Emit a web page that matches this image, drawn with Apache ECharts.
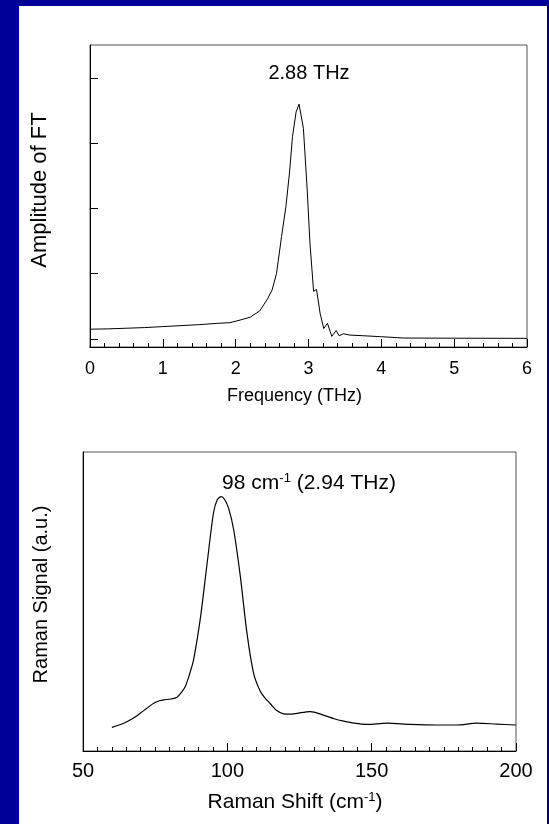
<!DOCTYPE html>
<html>
<head>
<meta charset="utf-8">
<script src="https://cdn.jsdelivr.net/npm/echarts@6/dist/echarts.min.js"></script>
<style>
html,body{margin:0;padding:0;background:#000099;}
#chart{width:549px;height:824px;}
</style>
</head>
<body>
<div id="chart"></div>
<script>
// ---- Top chart: Fourier transform amplitude vs frequency (THz) ----
var ftFreq = [0.00,0.25,0.50,0.75,1.00,1.25,1.50,1.75,1.92,2.06,2.20,2.33,2.43,2.50,2.56,2.63,2.69,2.74,2.78,2.83,2.87,2.93,2.98,3.02,3.07,3.11,3.16,3.21,3.26,3.32,3.38,3.42,3.48,3.57,3.75,4.00,4.30,5.00,6.00];
var ftAmp  = [0.150,0.155,0.165,0.175,0.190,0.205,0.220,0.240,0.250,0.290,0.335,0.430,0.600,0.750,1.000,1.570,2.030,2.560,3.100,3.480,3.600,3.230,2.330,1.470,0.730,0.760,0.390,0.160,0.240,0.040,0.130,0.050,0.080,0.060,0.050,0.035,0.015,0.012,0.010];
var ftXTicks = [0,1,2,3,4,5,6];
var ftYTicks = [0,1,2,3,4];

// ---- Bottom chart: Raman signal vs Raman shift (cm-1) ----
var ramanShift  = [60.0,62.5,65.2,67.5,69.8,72.0,74.5,76.5,78.0,80.5,82.6,84.0,85.4,87.0,88.3,90.6,93.0,95.2,96.5,97.9,99.0,100.4,102.2,104.5,106.8,109.1,111.4,113.0,114.9,117.0,119.5,122.0,124.1,128.7,133.3,137.0,140.3,144.0,148.4,155.3,163.4,172.6,179.5,186.5,193.4,200.0];
var ramanSignal = [0.079,0.087,0.098,0.110,0.126,0.142,0.160,0.168,0.171,0.174,0.180,0.195,0.215,0.260,0.305,0.440,0.628,0.796,0.840,0.851,0.842,0.813,0.740,0.584,0.394,0.260,0.200,0.178,0.158,0.136,0.124,0.123,0.126,0.132,0.120,0.108,0.100,0.093,0.089,0.093,0.089,0.087,0.087,0.093,0.090,0.087];
var ramanXTicks = [50,100,150,200];

var ftLabel = '2.88 THz';
var ramanLabel = '{a|98 cm}{s|-1}{a| (2.94 THz)}';

var FONT = '"Liberation Sans", Arial, Helvetica, sans-serif';

function pairs(xs, ys){ var o=[]; for(var i=0;i<xs.length;i++){ o.push([xs[i], ys[i]]); } return o; }

var chart = echarts.init(document.getElementById('chart'), null, {renderer:'canvas'});
var supRich = function(size){
  return {a:{fontSize:size, fontFamily:FONT, color:'#000', lineHeight:size+2},
          s:{fontSize:13, fontFamily:FONT, color:'#000', verticalAlign:'top', lineHeight:13, padding:[0,0,8,0]}};
};

chart.setOption({
  backgroundColor:'transparent',
  animation:false,
  graphic:[
    {type:'rect', z:-10, silent:true, shape:{x:19,y:6,width:528,height:818}, style:{fill:'#ffffff'}},
    {type:'text', z:10, x:309, y:73, style:{text:ftLabel, font:'20px '+FONT, fill:'#000', textAlign:'center', textVerticalAlign:'middle'}},
    {type:'text', z:10, x:309, y:483, style:{text:ramanLabel, fill:'#000', align:'center', verticalAlign:'middle', rich:supRich(21)}}
  ],
  grid:[
    {left:90, top:45, width:437, height:302, show:true, borderColor:'#555', borderWidth:1, backgroundColor:'transparent'},
    {left:83, top:452, width:433, height:299, show:true, borderColor:'#555', borderWidth:1, backgroundColor:'transparent'}
  ],
  xAxis:[
    {gridIndex:0, type:'value', min:0, max:6, interval:1,
     name:'Frequency (THz)', nameLocation:'middle', nameGap:40,
     nameTextStyle:{color:'#000', fontFamily:FONT, fontSize:18, padding:[0,28,0,0]},
     axisLine:{show:true, onZero:false, lineStyle:{color:'#000', width:1}},
     axisTick:{show:true, inside:true, length:8, lineStyle:{color:'#000'}},
     minorTick:{show:true, splitNumber:5, length:4, lineStyle:{color:'#000'}},
     axisLabel:{show:true, margin:13, color:'#000', fontFamily:FONT, fontSize:18, customValues:ftXTicks},
     splitLine:{show:false}},
    {gridIndex:1, type:'value', min:50, max:200, interval:50,
     name:'{a|Raman Shift (cm}{s|-1}{a|)}', nameLocation:'middle', nameGap:40,
     nameTextStyle:{color:'#000', fontFamily:FONT, fontSize:21, padding:[0,9,0,0], rich:supRich(21)},
     axisLine:{show:true, onZero:false, lineStyle:{color:'#000', width:1}},
     axisTick:{show:true, inside:true, length:8, lineStyle:{color:'#000'}},
     minorTick:{show:true, splitNumber:10, length:4, lineStyle:{color:'#000'}},
     axisLabel:{show:true, margin:10, color:'#000', fontFamily:FONT, fontSize:20, customValues:ramanXTicks},
     splitLine:{show:false}}
  ],
  yAxis:[
    {gridIndex:0, type:'value', min:-0.1226, max:4.5057,
     name:'Amplitude of FT', nameLocation:'middle', nameGap:39,
     nameTextStyle:{color:'#000', fontFamily:FONT, fontSize:22, padding:[0,0,0,12]},
     axisLine:{show:true, onZero:false, lineStyle:{color:'#000', width:1}},
     axisTick:{show:true, inside:true, length:8, customValues:ftYTicks, lineStyle:{color:'#000'}},
     axisLabel:{show:false},
     splitLine:{show:false}},
    {gridIndex:1, type:'value', min:0, max:1,
     name:'Raman Signal (a.u.)', nameLocation:'middle', nameGap:32,
     nameTextStyle:{color:'#000', fontFamily:FONT, fontSize:20, padding:[0,0,0,14]},
     axisLine:{show:true, onZero:false, lineStyle:{color:'#000', width:1}},
     axisTick:{show:false},
     axisLabel:{show:false},
     splitLine:{show:false}}
  ],
  series:[
    {type:'line', xAxisIndex:0, yAxisIndex:0, data:pairs(ftFreq, ftAmp), showSymbol:false, symbol:'none',
     lineStyle:{color:'#000', width:1}, smooth:false},
    {type:'line', xAxisIndex:1, yAxisIndex:1, data:pairs(ramanShift, ramanSignal), showSymbol:false, symbol:'none',
     lineStyle:{color:'#000', width:1.2}, smooth:0.3}
  ]
});
</script>
</body>
</html>
